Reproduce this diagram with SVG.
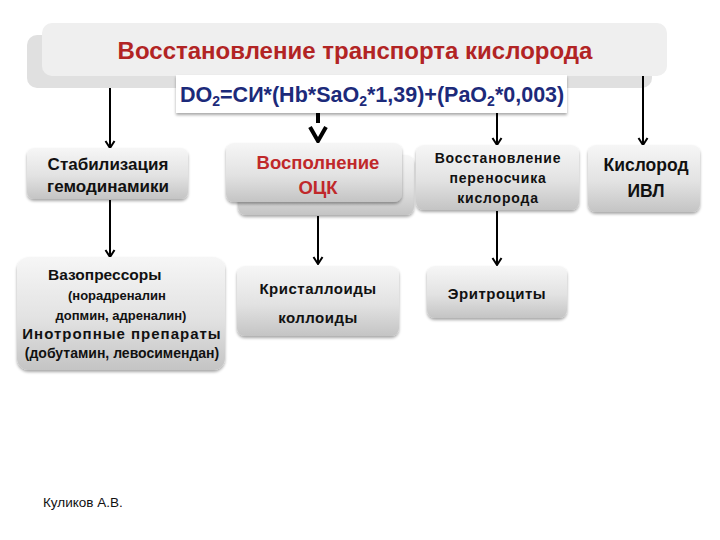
<svg xmlns="http://www.w3.org/2000/svg" width="720" height="540" viewBox="0 0 720 540">
<defs>
<linearGradient id="g" x1="0" y1="0" x2="0" y2="1">
<stop offset="0" stop-color="#f6f6f6"/>
<stop offset="0.55" stop-color="#e2e2e2"/>
<stop offset="1" stop-color="#c4c4c4"/>
</linearGradient>
<filter id="sh" x="-10%" y="-10%" width="120%" height="130%">
<feGaussianBlur in="SourceAlpha" stdDeviation="1.5"/>
<feOffset dx="0" dy="2" result="o"/>
<feComponentTransfer><feFuncA type="linear" slope="0.35"/></feComponentTransfer>
<feMerge><feMergeNode/><feMergeNode in="SourceGraphic"/></feMerge>
</filter>
<marker id="v" viewBox="0 0 10 12" refX="9" refY="6" markerWidth="10" markerHeight="12" markerUnits="userSpaceOnUse" orient="auto">
<polyline points="2,1.5 9,6 2,10.5" fill="none" stroke="#000" stroke-width="2"/>
</marker>
</defs>
<style>
.box{fill:url(#g);filter:url(#sh)}
.t{font-family:"Liberation Sans",Arial,sans-serif;fill:#111;text-anchor:middle;font-weight:bold}
.red{fill:#c0282a}
.ln{stroke:#000;stroke-width:2;fill:none}
</style>
<rect width="720" height="540" fill="#fff"/>

<g id="title">
<rect x="27" y="35" width="625" height="53" rx="10" fill="#e0e0e0"/>
<rect x="42" y="23" width="625" height="53" rx="10" fill="#efefef"/>
<text x="355" y="59" class="t" style="font-size:24px;fill:#b22424">Восстановление транспорта кислорода</text>
</g>

<g id="formula">
<rect x="176" y="75" width="391" height="38" fill="#fff" filter="url(#sh)"/>
<text x="180" y="102" style="font-family:'Liberation Sans',Arial,sans-serif;font-size:21.5px;font-weight:bold;fill:#1c2a7a">DO<tspan font-size="14" dy="4">2</tspan><tspan dy="-4">=СИ*(Hb*SaO</tspan><tspan font-size="14" dy="4">2</tspan><tspan dy="-4">*1,39)+(PaO</tspan><tspan font-size="14" dy="4">2</tspan><tspan dy="-4">*0,003)</tspan></text>
</g>

<g id="connectors">
<line x1="110" y1="88" x2="110" y2="148" class="ln" marker-end="url(#v)"/>
<line x1="318" y1="113" x2="318" y2="123" stroke="#000" stroke-width="4"/>
<polyline points="310,127 318,141 326,127" fill="none" stroke="#000" stroke-width="4"/>
<line x1="497" y1="113" x2="497" y2="145" class="ln" marker-end="url(#v)"/>
<line x1="643" y1="76" x2="643" y2="145" class="ln" marker-end="url(#v)"/>
<line x1="110" y1="200" x2="110" y2="257" class="ln" marker-end="url(#v)"/>
<line x1="318" y1="216" x2="318" y2="264" class="ln" marker-end="url(#v)"/>
<line x1="497" y1="211" x2="497" y2="265" class="ln" marker-end="url(#v)"/>
</g>

<g id="n1">
<rect x="27" y="148" width="161" height="51" rx="7" class="box"/>
<text x="108" y="170" class="t" style="font-size:17px">Стабилизация</text>
<text x="108" y="192" class="t" style="font-size:17px">гемодинамики</text>
</g>

<g id="n2">
<rect x="238" y="155" width="176" height="60" rx="8" class="box"/>
<rect x="226" y="143" width="176" height="59" rx="8" class="box"/>
<text x="318" y="169" class="t red" style="font-size:18.5px">Восполнение</text>
<text x="318" y="194" class="t red" style="font-size:18.5px">ОЦК</text>
</g>

<g id="n3">
<rect x="416" y="145" width="163" height="65" rx="8" class="box"/>
<text x="498" y="163" class="t" style="font-size:14px;letter-spacing:0.8px">Восстановление</text>
<text x="498" y="183" class="t" style="font-size:14px;letter-spacing:0.8px">переносчика</text>
<text x="498" y="203" class="t" style="font-size:14px;letter-spacing:0.8px">кислорода</text>
</g>

<g id="n4">
<rect x="588" y="145" width="112" height="67" rx="8" class="box"/>
<text x="646" y="171" class="t" style="font-size:17.5px">Кислород</text>
<text x="646" y="197" class="t" style="font-size:17.5px">ИВЛ</text>
</g>

<g id="n5">
<rect x="17" y="257" width="208" height="113" rx="12" class="box"/>
<text x="48" y="280" class="t" style="font-size:15.5px;text-anchor:start">Вазопрессоры</text>
<text x="68" y="300" class="t" style="font-size:13px;text-anchor:start">(норадреналин</text>
<text x="121" y="320" class="t" style="font-size:13px">допмин, адреналин)</text>
<text x="122" y="339" class="t" style="font-size:15px;letter-spacing:1px">Инотропные препараты</text>
<text x="122" y="358" class="t" style="font-size:14px">(добутамин, левосимендан)</text>
</g>

<g id="n6">
<rect x="237" y="266" width="162" height="70" rx="8" class="box"/>
<text x="318" y="294" class="t" style="font-size:15px;letter-spacing:0.5px">Кристаллоиды</text>
<text x="318" y="323" class="t" style="font-size:15px;letter-spacing:0.5px">коллоиды</text>
</g>

<g id="n7">
<rect x="427" y="266" width="140" height="52" rx="8" class="box"/>
<text x="497" y="299" class="t" style="font-size:15px;letter-spacing:0.5px">Эритроциты</text>
</g>

<text x="43" y="507" style="font-family:'Liberation Sans',Arial,sans-serif;font-size:13.5px;fill:#111">Куликов А.В.</text>
</svg>
